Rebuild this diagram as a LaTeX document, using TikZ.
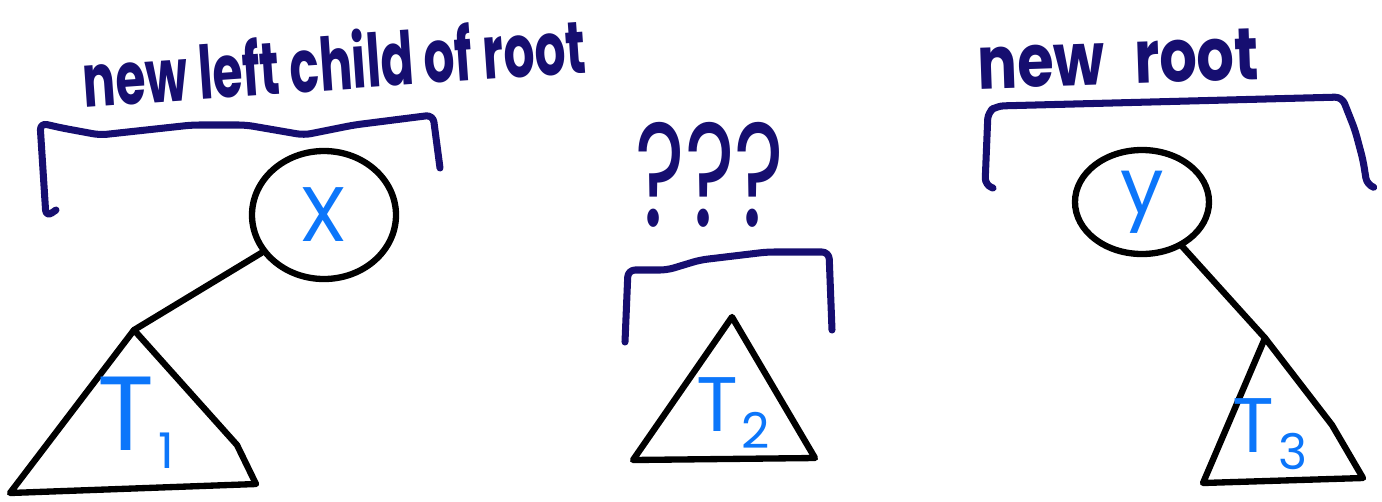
\documentclass[tikz,border=0pt]{standalone}
\usepackage{fontspec}
\setmainfont{Poppins}
\usepackage{graphicx}
\usetikzlibrary{shapes.geometric}

\definecolor{inknavy}{RGB}{22,14,112}
\definecolor{inkblue}{RGB}{12,118,250}

% lowered digit after the T of a subtree
\newcommand{\tsub}[1]{\kern1pt\lower5pt\hbox{\fontsize{14}{14}\selectfont #1}}

\begin{document}
\begin{tikzpicture}[
  bracketline/.style={draw=inknavy, line width=2pt, line cap=round, line join=round, rounded corners=2pt},
  treeline/.style={draw=black, line width=1.8pt, line cap=round, line join=round},
  treenode/.style={ellipse, treeline, inner sep=0pt, text=inkblue, font=\fontsize{22}{22}\selectfont},
  subtreelabel/.style={text=inkblue, font=\fontsize{22}{22}\selectfont},
  note/.style={text=inknavy, font=\fontsize{21}{21}\selectfont\bfseries}
]
  \useasboundingbox (0,0) rectangle (13.82,5.01);

  % --- left: new left child of root ---
  \node[note, rotate=4] (leftnote) at (3.34,4.40) {\scalebox{0.66}[1]{new left child of root}};
  \draw[bracketline] (0.56,2.91) -- (0.46,2.84) -- (0.40,3.78)
    -- (0.62,3.73) -- (1.00,3.66) -- (1.92,3.76) -- (2.46,3.76) -- (3.04,3.66)
    -- (3.54,3.76) -- (4.33,3.86) -- (4.40,3.33);

  \node[treenode, minimum width=1.44cm, minimum height=1.28cm] (x) at (3.24,2.86) {X};

  \coordinate (t1top) at (1.34,1.71);
  \coordinate (t1left) at (0.10,0.08);
  \coordinate (t1right) at (2.56,0.17);
  \draw[treeline] (t1top) -- (2.37,0.56) -- (t1right) -- (t1left) -- cycle;
  \draw[treeline] (x) -- (t1top);
  \node[subtreelabel, font=\fontsize{30}{30}\selectfont] (t1) at (1.36,0.78) {T\tsub{1}};

  % --- middle: T2 ---
  \node[text=inknavy, font=\fontsize{42}{42}\selectfont] (what) at (7.10,3.26) {\scalebox{0.64}[1]{???}};
  \draw[bracketline] (6.25,1.59) -- (6.28,2.31) -- (6.67,2.31)
    -- (7.00,2.41) -- (7.67,2.49) -- (8.29,2.49) -- (8.32,1.71);

  \coordinate (t2top) at (7.32,1.84);
  \coordinate (t2left) at (6.33,0.41);
  \coordinate (t2right) at (8.15,0.43);
  \draw[treeline] (t2top) -- (t2right) -- (t2left) -- cycle;
  \node[subtreelabel] (t2) at (7.33,0.88) {T\tsub{2}};

  % --- right: new root ---
  \node[note, rotate=2] (rightnote) at (11.18,4.42) {\scalebox{0.8}[1]{new\hspace{0.5em}root}};
  \draw[bracketline] (9.93,3.13) -- (9.85,3.16) -- (9.88,3.89) -- (9.97,3.95)
    -- (13.42,4.04) -- (13.55,3.71) -- (13.63,3.41)
    -- (13.67,3.16) -- (13.73,3.14);

  \node[treenode, minimum width=1.34cm, minimum height=1.04cm] (y) at (11.42,2.99) {\raisebox{-4pt}{y}};

  \coordinate (t3top) at (12.65,1.63);
  \coordinate (t3left) at (12.03,0.18);
  \coordinate (t3right) at (13.63,0.23);
  \draw[treeline] (t3top) -- (13.32,0.76) -- (t3right) -- (t3left) -- cycle;
  \draw[treeline] (y) -- (t3top);
  \node[subtreelabel] (t3) at (12.70,0.67) {T\tsub{3}};

\end{tikzpicture}
\end{document}
